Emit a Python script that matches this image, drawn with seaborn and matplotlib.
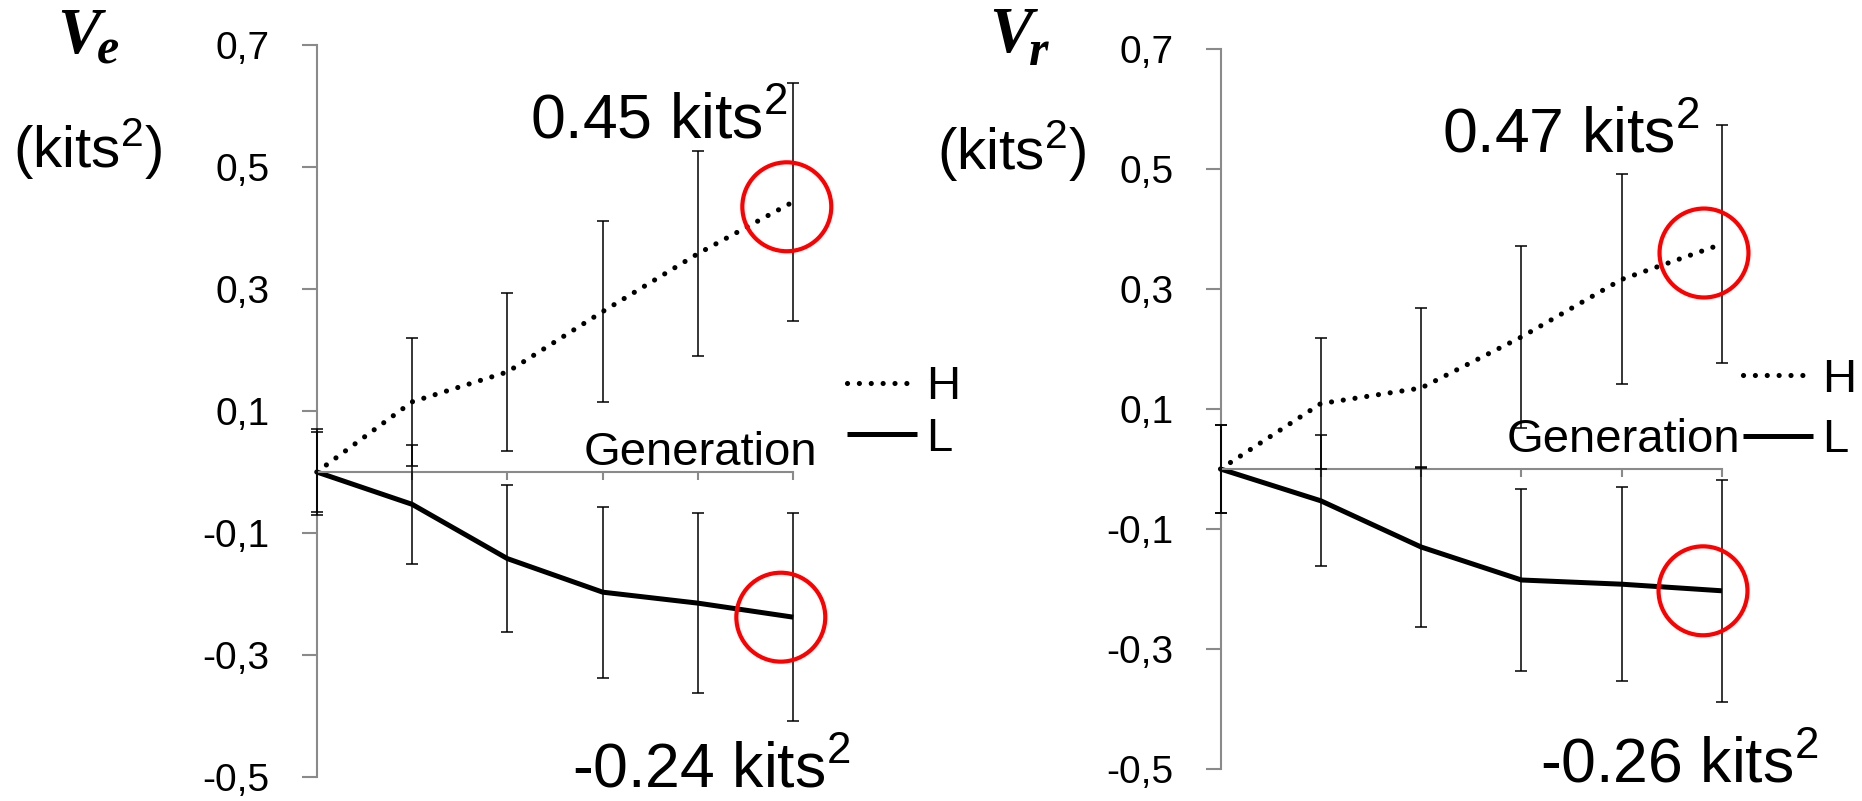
import matplotlib
matplotlib.use("Agg")
import matplotlib.pyplot as plt
import seaborn as sns
import pandas as pd
from matplotlib.transforms import offset_copy

# ---------------- data ----------------
generations = [0, 1, 2, 3, 4, 5]

ve_H = [0.0, 0.115, 0.164, 0.263, 0.358, 0.443]
ve_H_err = [0.065, 0.105, 0.129, 0.149, 0.168, 0.195]
ve_L = [0.0, -0.053, -0.142, -0.197, -0.215, -0.238]
ve_L_err = [0.071, 0.097, 0.121, 0.140, 0.148, 0.170]

vr_H = [0.0, 0.109, 0.135, 0.220, 0.316, 0.375]
vr_H_err = [0.073, 0.109, 0.134, 0.152, 0.175, 0.199]
vr_L = [0.0, -0.053, -0.130, -0.185, -0.192, -0.203]
vr_L_err = [0.073, 0.109, 0.134, 0.152, 0.162, 0.185]

ytick_values = [0.7, 0.5, 0.3, 0.1, -0.1, -0.3, -0.5]
ytick_labels = ["0,7", "0,5", "0,3", "0,1", "-0,1", "-0,3", "-0,5"]
series_labels = ["H", "L"]
panel_symbol = ["V", "V"]
panel_subscript = ["e", "r"]
unit_label = "(kits$^{2}$)"
x_label = "Generation"
final_labels_e = ["0.45 kits$^{2}$", "-0.24 kits$^{2}$"]
final_labels_r = ["0.47 kits$^{2}$", "-0.26 kits$^{2}$"]

# ---------------- style ----------------
sns.set_theme(style="white")
plt.rcParams["font.family"] = ["Liberation Sans", "DejaVu Sans"]
plt.rcParams["mathtext.fontset"] = "custom"
plt.rcParams["mathtext.rm"] = "Liberation Sans"
plt.rcParams["mathtext.it"] = "Liberation Sans:italic"
plt.rcParams["mathtext.bf"] = "Liberation Sans:bold"
plt.rcParams["text.color"] = "black"
plt.rcParams["axes.labelcolor"] = "black"
plt.rcParams["xtick.color"] = "black"
plt.rcParams["ytick.color"] = "black"

W, Hh = 1862, 801
fig = plt.figure(figsize=(W / 100, Hh / 100), dpi=100)
fig.patch.set_facecolor("white")

GREY = "#8a8a8a"


def fx(x):
    return x / W


def fy(y):
    return 1 - y / Hh


def add_ax(x0, x1, ytop, ybot):
    return fig.add_axes([x0 / W, 1 - ybot / Hh, (x1 - x0) / W, (ybot - ytop) / Hh])


def draw_panel(ax, H, Herr, L, Lerr, legend_anchor, labelspacing, circ_off_H, circ_off_L):
    dfH = pd.DataFrame({"gen": generations, "val": H})
    dfL = pd.DataFrame({"gen": generations, "val": L})
    sns.lineplot(data=dfH, x="gen", y="val", ax=ax, color="black", linewidth=3.7,
                 legend=False, errorbar=None)
    lineH = ax.lines[-1]
    lineH.set_linestyle((0, (0.01, 2.3)))
    lineH.set_dash_capstyle("round")
    sns.lineplot(data=dfL, x="gen", y="val", ax=ax, color="black", linewidth=3.6,
                 legend=False, errorbar=None)
    lineL = ax.lines[-1]
    lineL.set_solid_capstyle("butt")
    for ln in (lineH, lineL):
        ln.set_clip_on(False)

    for vals, errs in ((H, Herr), (L, Lerr)):
        cont = ax.errorbar(generations, vals, yerr=errs, fmt="none", ecolor="black",
                           elinewidth=1.1, capsize=4.5, capthick=1.1, zorder=3)
        for ch in cont.get_children():
            ch.set_clip_on(False)

    ax.set_xlim(0, 5)
    ax.set_ylim(-0.5, 0.7)
    ax.set_xlabel("")
    ax.set_ylabel("")
    ax.grid(False)
    ax.patch.set_alpha(0)
    for s in ("top", "right"):
        ax.spines[s].set_visible(False)
    for s in ("left", "bottom"):
        ax.spines[s].set_color(GREY)
        ax.spines[s].set_linewidth(1.5)
    ax.spines["bottom"].set_position(("data", 0))
    ax.set_xticks(generations)
    ax.set_xticklabels([])
    ax.set_yticks(ytick_values)
    ax.set_yticklabels(ytick_labels, fontfamily=["Liberation Sans", "DejaVu Sans"], fontsize=28,
                       color="black")
    ax.tick_params(axis="x", bottom=True, direction="out", length=5.8, width=1.5, color=GREY)
    ax.tick_params(axis="y", left=True, direction="out", length=10.8, width=1.5, color=GREY,
                   pad=23, labelcolor="black")

    ax.legend(handles=[lineH, lineL], labels=series_labels, loc="center left",
              bbox_to_anchor=legend_anchor, bbox_transform=fig.transFigure,
              frameon=False, fontsize=34, handlelength=1.48, handletextpad=0.2,
              labelspacing=labelspacing, borderpad=0, borderaxespad=0,
              labelcolor="black")

    for vals, off in ((H, circ_off_H), (L, circ_off_L)):
        tr = offset_copy(ax.transData, fig=fig, x=off[0], y=off[1], units="dots")
        ax.scatter([generations[-1]], [vals[-1]], s=4100, facecolors="none",
                   edgecolors="#ff0000", linewidths=3.0, transform=tr,
                   clip_on=False, zorder=6)


ax1 = add_ax(316.8, 793.3, 45, 777)
ax2 = add_ax(1220.5, 1722.0, 49, 769)

draw_panel(ax1, ve_H, ve_H_err, ve_L, ve_L_err, (fx(847), fy(413)), 0.15, (-6.5, -5), (-12.5, 0))
draw_panel(ax2, vr_H, vr_H_err, vr_L, vr_L_err, (fx(1743), fy(410)), 0.35, (-18, -9), (-19, 0))

serif = dict(family=["Liberation Serif", "DejaVu Serif"], weight="bold", style="italic",
             va="baseline", ha="left", color="black")
# panel titles
fig.text(fx(57), fy(53), panel_symbol[0], fontsize=47, **serif)
fig.text(fx(97), fy(64), panel_subscript[0], fontsize=36, **serif)
fig.text(fx(989), fy(52), panel_symbol[1], fontsize=47, **serif)
fig.text(fx(1029), fy(65), panel_subscript[1], fontsize=36, **serif)

fig.text(fx(13), fy(168), unit_label, fontsize=42, va="baseline", ha="left", color="black")
fig.text(fx(937), fy(170), unit_label, fontsize=42, va="baseline", ha="left", color="black")

# x labels
fig.text(fx(817), fy(465), x_label, fontsize=34, va="baseline", ha="right", zorder=10,
         color="black")
fig.text(fx(1740), fy(452), x_label, fontsize=34, va="baseline", ha="right", zorder=10,
         color="black")

# final value annotations
fig.text(fx(530), fy(138), final_labels_e[0], fontsize=45, va="baseline", ha="left", color="black")
fig.text(fx(572), fy(787), final_labels_e[1], fontsize=45, va="baseline", ha="left", color="black")
fig.text(fx(1442), fy(152), final_labels_r[0], fontsize=45, va="baseline", ha="left", color="black")
fig.text(fx(1540), fy(782), final_labels_r[1], fontsize=45, va="baseline", ha="left", color="black")

fig.savefig("out.png", dpi=100, facecolor="white")
